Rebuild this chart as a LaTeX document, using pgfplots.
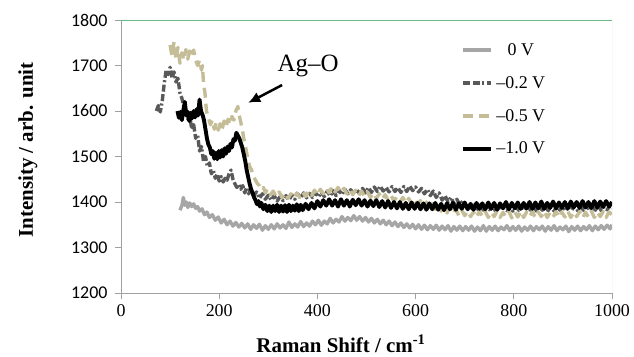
\documentclass[border=0pt]{standalone}
\usepackage{fontspec}
\setmainfont{Liberation Serif}
\newfontfamily\carlito{Carlito}
\usepackage{pgfplots}
\pgfplotsset{compat=1.18}
\usetikzlibrary{arrows.meta}
\definecolor{cZero}{HTML}{A6A6A6}
\definecolor{cTwo}{HTML}{595959}
\definecolor{cFive}{HTML}{C4BD97}
\definecolor{frameGray}{HTML}{A0A0A0}
\definecolor{frameGreen}{HTML}{6ABA8A}
\definecolor{frameLight}{HTML}{A8DCC0}

\pgfplotstableread{
x y
120 1382
124 1392
127 1410
130 1393
133 1400
136 1388
140 1398
144 1390
148 1396
152 1386
156 1390
160 1380
165 1385
170 1372
175 1378
180 1366
186 1372
192 1360
198 1367
204 1354
210 1362
216 1350
222 1358
228 1347
234 1355
240 1345
246 1353
252 1343
258 1352
264 1340
270 1350
276 1342
282 1351
288 1338
294 1348
300 1340
306 1350
312 1341
318 1352
324 1343
330 1350
336 1342
342 1356
348 1344
354 1352
360 1345
366 1357
372 1346
378 1354
384 1347
390 1358
396 1350
402 1360
408 1349
414 1358
420 1352
426 1364
432 1354
438 1362
444 1356
450 1368
456 1358
462 1366
468 1359
474 1370
480 1360
486 1368
492 1358
498 1366
504 1356
510 1364
516 1354
522 1362
528 1352
534 1360
540 1350
546 1358
552 1348
558 1356
564 1346
570 1354
576 1344
582 1352
588 1343
594 1351
600 1341
606 1350
612 1340
618 1349
624 1339
630 1348
636 1340
642 1349
648 1338
654 1347
660 1339
666 1348
672 1336
678 1346
684 1338
690 1347
696 1337
702 1346
708 1338
714 1347
720 1336
726 1345
732 1337
738 1348
744 1336
750 1346
756 1338
762 1347
768 1337
774 1345
780 1339
786 1348
792 1337
798 1346
804 1338
810 1347
816 1336
822 1345
828 1338
834 1347
840 1337
846 1346
852 1339
858 1347
864 1336
870 1346
876 1338
882 1348
888 1337
894 1345
900 1339
906 1347
912 1335
918 1346
924 1338
930 1347
936 1337
942 1346
948 1339
954 1348
960 1337
966 1347
972 1339
978 1348
984 1340
990 1349
996 1341
1000 1350
}\dataZero

\pgfplotstableread{
x y
72 1600
76 1612
80 1598
84 1622
88 1660
92 1690
96 1680
100 1696
104 1672
108 1686
112 1664
116 1672
120 1640
124 1628
128 1610
132 1600
136 1582
140 1590
144 1560
148 1570
152 1540
156 1548
160 1512
164 1522
168 1490
172 1500
176 1478
180 1486
184 1462
188 1470
192 1452
196 1462
200 1446
204 1456
208 1444
212 1452
216 1448
220 1462
224 1470
228 1450
232 1440
236 1432
240 1438
244 1428
248 1436
252 1420
256 1432
260 1418
264 1426
270 1414
276 1422
282 1408
288 1418
294 1406
300 1415
306 1404
312 1414
318 1402
324 1412
330 1403
336 1414
342 1404
348 1416
354 1406
360 1418
366 1408
372 1420
378 1409
384 1419
390 1410
396 1421
402 1411
408 1422
414 1412
420 1424
426 1413
432 1425
438 1414
444 1426
450 1416
456 1428
462 1418
468 1427
474 1417
480 1428
486 1418
492 1430
498 1420
504 1432
510 1421
516 1433
522 1423
528 1435
534 1424
540 1432
546 1422
552 1434
558 1423
564 1432
570 1421
576 1434
582 1423
588 1435
594 1425
600 1433
606 1422
612 1430
618 1418
624 1428
630 1414
636 1424
642 1410
648 1420
654 1404
660 1414
666 1400
672 1410
678 1396
684 1406
690 1394
696 1402
702 1390
708 1398
714 1386
720 1394
726 1384
732 1394
738 1382
744 1392
750 1383
756 1393
762 1381
768 1391
774 1382
780 1392
786 1381
792 1390
798 1380
804 1390
810 1382
816 1392
822 1381
828 1390
834 1382
840 1392
846 1380
852 1391
858 1382
864 1390
870 1381
876 1392
882 1380
888 1390
894 1382
900 1391
906 1380
912 1390
918 1382
924 1392
930 1381
936 1390
942 1382
948 1392
954 1381
960 1390
966 1382
972 1392
978 1381
984 1390
990 1383
996 1392
1000 1386
}\dataTwo

\pgfplotstableread{
x y
100 1745
104 1720
108 1752
112 1712
116 1740
120 1705
124 1728
128 1712
132 1735
136 1714
140 1732
144 1720
148 1734
152 1712
156 1700
160 1712
164 1690
166 1700
168 1660
171 1640
174 1600
178 1585
182 1570
186 1580
190 1560
194 1575
198 1558
202 1572
206 1560
210 1578
214 1565
218 1582
222 1570
226 1588
230 1580
234 1600
238 1610
241 1590
244 1575
247 1560
250 1540
254 1520
258 1495
262 1478
266 1470
270 1455
274 1448
278 1440
282 1436
286 1428
290 1432
294 1420
298 1428
304 1416
310 1424
316 1412
322 1422
328 1410
334 1420
340 1408
346 1418
352 1408
358 1420
364 1410
370 1422
376 1412
382 1424
388 1414
394 1426
400 1415
406 1428
412 1418
418 1430
424 1420
430 1434
436 1422
442 1432
448 1420
454 1430
460 1418
466 1428
472 1416
478 1426
484 1414
490 1424
496 1412
502 1422
508 1410
514 1420
520 1408
526 1418
532 1406
538 1416
544 1404
550 1414
556 1402
562 1412
568 1400
574 1410
580 1398
586 1408
592 1396
598 1406
604 1394
610 1403
616 1390
622 1400
628 1386
634 1396
640 1384
646 1394
652 1380
658 1390
664 1376
670 1388
676 1374
682 1384
688 1370
694 1382
700 1370
706 1380
712 1368
718 1378
724 1366
730 1380
736 1368
742 1379
748 1366
754 1378
760 1368
766 1380
772 1366
778 1377
784 1367
790 1379
796 1365
802 1378
808 1367
814 1380
820 1366
826 1378
832 1368
838 1379
844 1365
850 1378
856 1368
862 1380
868 1366
874 1377
880 1367
886 1379
892 1366
898 1378
904 1367
910 1380
916 1366
922 1378
928 1368
934 1379
940 1365
946 1377
952 1367
958 1380
964 1366
970 1378
976 1368
982 1379
988 1366
994 1378
1000 1372
}\dataFive

\pgfplotstableread{
x y
115 1600
118 1585
121 1598
124 1580
127 1602
130 1620
133 1590
136 1598
139 1578
142 1596
145 1584
148 1600
151 1586
154 1604
157 1590
160 1625
163 1600
166 1592
169 1580
172 1560
175 1540
178 1526
181 1520
184 1505
187 1512
190 1495
193 1508
196 1494
199 1512
202 1498
205 1514
208 1500
211 1518
214 1506
217 1522
220 1512
223 1528
226 1520
229 1538
232 1535
235 1552
238 1546
241 1540
244 1530
247 1520
250 1505
253 1490
256 1470
259 1455
262 1440
265 1428
268 1420
271 1410
274 1404
277 1395
280 1402
283 1390
286 1398
290 1384
294 1394
298 1380
302 1392
306 1378
310 1392
314 1380
318 1394
322 1378
326 1392
330 1379
334 1393
338 1378
342 1394
346 1380
350 1392
354 1381
358 1395
362 1380
366 1394
370 1382
376 1396
382 1384
388 1398
394 1386
400 1402
406 1390
412 1404
418 1392
424 1406
430 1392
436 1404
442 1390
448 1406
454 1392
460 1404
466 1390
472 1405
478 1393
484 1406
490 1392
496 1404
502 1390
508 1403
514 1391
520 1404
526 1389
532 1402
538 1388
544 1402
550 1387
556 1400
562 1386
568 1400
574 1385
580 1398
586 1384
592 1399
598 1385
604 1398
610 1384
616 1397
622 1383
628 1397
634 1384
640 1398
646 1383
652 1396
658 1382
664 1397
670 1384
676 1398
682 1383
688 1397
694 1385
700 1399
706 1384
712 1396
718 1383
724 1398
730 1385
736 1397
742 1384
748 1399
754 1385
760 1398
766 1383
772 1397
778 1386
784 1400
790 1384
796 1398
802 1386
808 1399
814 1385
820 1398
826 1386
832 1400
838 1385
844 1399
850 1386
856 1401
862 1385
868 1398
874 1387
880 1401
886 1386
892 1399
898 1387
904 1400
910 1386
916 1401
922 1388
928 1400
934 1387
940 1402
946 1388
952 1400
958 1387
964 1402
970 1388
976 1401
982 1389
988 1402
994 1390
1000 1400
}\dataOne

\begin{document}
\begin{tikzpicture}
\begin{axis}[
  at={(0,0)}, anchor=south west,
  scale only axis,
  width=491bp, height=273bp,
  xmin=0, xmax=1000, ymin=1200, ymax=1800,
  xtick={0,200,...,1000},
  ytick={1200,1300,...,1800},
  /pgf/number format/1000 sep={},
  /pgf/number format/assume math mode=true,
  axis line style={draw=none},
  tick align=outside,
  xtick pos=bottom, ytick pos=left,
  major tick length=6bp,
  tick style={frameGray, line width=0.8bp},
  xticklabel style={font=\fontsize{18}{18}\selectfont, yshift=-2bp},
  yticklabel style={font=\fontsize{18}{18}\carlito, xshift=-4bp},
  clip=true,
  legend cell align=center,
  legend style={at={(rel axis cs:0.693,0.93)}, anchor=north west, draw=none, fill=none,
    font=\fontsize{18}{18}\selectfont, row sep=15.5bp, inner xsep=0bp,
    nodes={inner xsep=3bp}},
  legend image code/.code={\draw[#1] (0bp,0bp) -- (28bp,0bp);},
  every axis plot/.append style={line join=round},
]
\addplot[cZero, line width=3.4bp] table {\dataZero};
\addlegendentry{0 V}
\addplot[cTwo, line width=3.4bp, dash pattern=on 7bp off 2.5bp on 7bp off 2.5bp on 2bp off 2.5bp] table {\dataTwo};
\addlegendentry{\textendash0.2 V}
\addplot[cFive, line width=3.4bp, dash pattern=on 10bp off 6bp] table {\dataFive};
\addlegendentry{\textendash0.5 V}
\addplot[black, line width=3.9bp] table {\dataOne};
\addlegendentry{\textendash1.0 V}

\draw[frameGray, line width=0.8bp] (rel axis cs:0,0) -- (rel axis cs:1,0);
\draw[frameGray, line width=0.8bp] (rel axis cs:0,0) -- (rel axis cs:0,1);
\draw[frameGreen, line width=0.9bp] (rel axis cs:0,1) -- (rel axis cs:1,1);
\draw[frameLight, line width=0.9bp] (rel axis cs:1,0) -- (rel axis cs:1,1);

\node[font=\fontsize{25}{25}\selectfont] at (axis cs:381,1699) {Ag\textendash O};
\draw[black, line width=2.5bp, -{Latex[length=12bp,width=11bp]}] (axis cs:328,1657) -- (axis cs:259,1618);
\end{axis}
\node[rotate=90, anchor=base, font=\fontsize{21}{21}\selectfont\bfseries] at (-88bp,143bp) {Intensity / arb. unit};
\node[anchor=base, font=\fontsize{21}{21}\selectfont\bfseries] at (220bp,-59bp) {Raman Shift / cm\textsuperscript{-1}};
\pgfresetboundingbox
\path (-121bp,-64bp) rectangle (513bp,293bp);
\end{tikzpicture}
\end{document}
